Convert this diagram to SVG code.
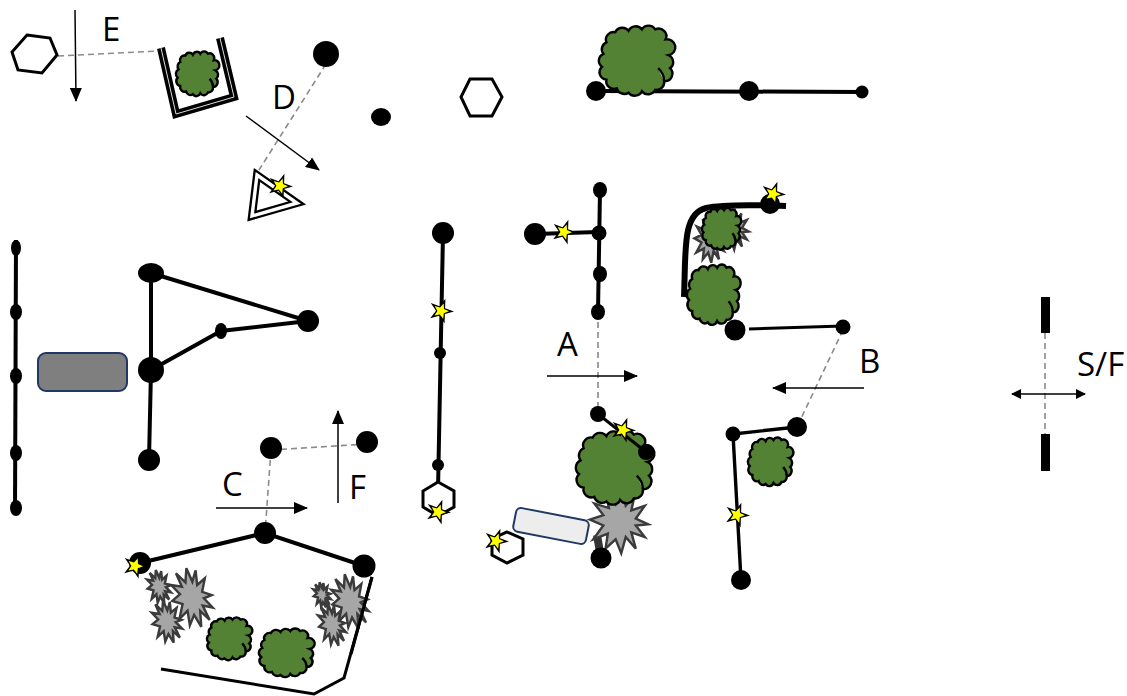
<svg xmlns="http://www.w3.org/2000/svg" xmlns:xlink="http://www.w3.org/1999/xlink" width="1127" height="696" viewBox="0 0 1127 696">
<style>
.dash{fill:none;stroke:#8a8a8a;stroke-width:1.6;stroke-dasharray:6 4}
.arr{fill:none;stroke:#000;stroke-width:1.5;marker-end:url(#ah)}
.arr2{fill:none;stroke:#000;stroke-width:1.5;marker-end:url(#ah2);marker-start:url(#ah2s)}
.w{fill:none;stroke:#000;stroke-width:4;stroke-linejoin:miter}
.k{fill:#000}
.hex{fill:#fff;stroke:#000;stroke-width:3}
.lbl{font-family:"Open Sans","Noto Sans",sans-serif;font-size:33px;fill:#000}
.tree path{fill:#548235;stroke:#000;stroke-width:2.4;vector-effect:non-scaling-stroke}
.bst{fill:#a6a6a6;stroke:#3a3a3a;stroke-width:2.4;stroke-linejoin:miter;vector-effect:non-scaling-stroke}
.soft{filter:url(#soft)}
.box{stroke:#1f3864;stroke-width:2}
</style>
<defs>
<filter id="soft" x="-20%" y="-20%" width="140%" height="140%"><feGaussianBlur stdDeviation="0.6"/></filter>
<marker id="ah" markerUnits="userSpaceOnUse" markerWidth="14" markerHeight="12" refX="13" refY="6" orient="auto"><path d="M0 0L14 6L0 12Z" fill="#000"/></marker>
<marker id="ah2" markerUnits="userSpaceOnUse" markerWidth="10" markerHeight="10" refX="9" refY="5" orient="auto"><path d="M0 0L10 5L0 10Z" fill="#000"/></marker>
<marker id="ah2s" markerUnits="userSpaceOnUse" markerWidth="10" markerHeight="10" refX="1" refY="5" orient="auto"><path d="M10 0L0 5L10 10Z" fill="#000"/></marker>
<g id="tree" class="tree"><path d="M44 -8A10.5 10.5 0 0 1 46 10A10.5 10.5 0 0 1 38 28A10.5 10.5 0 0 1 26 40A10.5 10.5 0 0 1 8 42A10.5 10.5 0 0 1 -10 44A10.5 10.5 0 0 1 -26 38A10.5 10.5 0 0 1 -40 26A10.5 10.5 0 0 1 -46 8A10.5 10.5 0 0 1 -44 -10A10.5 10.5 0 0 1 -40 -26A10.5 10.5 0 0 1 -28 -40A10.5 10.5 0 0 1 -10 -42A10.5 10.5 0 0 1 8 -44A10.5 10.5 0 0 1 26 -44A10.5 10.5 0 0 1 40 -30A10.5 10.5 0 0 1 44 -8ZM38 28C38 22 35 15 30 10"/></g>
<polygon id="burst" class="bst" points="52,4 30,6 46,26 22,18 30,46 12,26 4,54 -6,30 -24,46 -20,20 -46,30 -28,6 -52,-4 -28,-12 -44,-32 -18,-24 -24,-50 -6,-30 6,-54 12,-28 28,-46 22,-20 46,-28 30,-6"/>
<g id="star"><polygon points="4.4,-12.2 4.1,-2.8 13,0.5 3.9,3.1 3.6,12.5 -1.7,4.7 -10.8,7.3 -5,-0.2 -10.2,-8 -1.4,-4.8" fill="#000"/><polygon points="2.7,-7.5 3,-2 8,0.3 2.8,2.2 2.2,7.7 -1.2,3.4 -6.6,4.5 -3.6,-0.1 -6.3,-4.9 -1,-3.5" fill="#ff0"/></g>
</defs>
<rect width="1127" height="696" fill="#fff"/>

<g id="connectors">
<path class="dash" d="M58 56L158 51"/>
<path class="dash" d="M326 64L259 170"/>
<path class="dash" d="M271 450L367 444"/>
<path class="dash" d="M271 450L265 533"/>
<path class="dash" d="M598 312L598 414"/>
<path class="dash" d="M843 330L797 427"/>
<path class="dash" d="M1045 333L1045 434"/>
<path class="arr" d="M75 10L76 101"/>
<path class="arr" d="M246 116L319 170"/>
<path class="arr" d="M216 508L307 508"/>
<path class="arr" d="M338 503L338 411"/>
<path class="arr" d="M547 376L637 376"/>
<path class="arr" d="M864 388L773 388"/>
<path class="arr2" d="M1012 394L1085 394"/>
<path class="w" d="M596 91L862 92"/>
<path class="w" d="M16 240L15 514"/>
<path class="w" d="M151 273L308 321L221 331L151 370M151 273L151 370L149 460"/>
<path class="w" d="M140 563L265 533L364 566"/>
<path class="w" style="stroke-width:3" d="M372 577L344 678L314 694L161 669"/>
<path class="w" d="M443 233L438 490"/>
<path class="w" d="M600 190L598 312"/>
<path class="w" d="M535 234L598 232"/>
<path class="w" style="stroke-width:3" d="M749 329L843 326"/>
<path class="w" style="stroke-width:3.4" d="M797 427L733 434L741 580"/>
<path class="w" style="stroke-width:6" d="M684 297C686 250 682 214 706 208C724 204 760 205 786 206"/>
</g>

<g id="text-labels">
<text class="lbl" x="102" y="41">E</text>
<text class="lbl" x="272" y="109">D</text>
<text class="lbl" x="222" y="496">C</text>
<text class="lbl" x="349" y="499">F</text>
<text class="lbl" x="557" y="356">A</text>
<text class="lbl" x="859" y="373">B</text>
<text class="lbl" x="1077" y="376">S/F</text>
</g>

<g id="n-hex-e"><polygon class="hex" points="27,35 50,38 57,55 42,73 18,70 12,52"/></g>
<g id="n-container">
<path d="M161 48L176 114L234 97L220 38" fill="none" stroke="#000" stroke-width="8"/>
<path d="M161 48L176 114L234 97L220 38" fill="none" stroke="#ddd" stroke-width="1"/>
<use xlink:href="#tree" href="#tree" transform="translate(197 74) scale(.42 .46)"/>
</g>
<g id="n-d-top"><circle class="k" cx="326" cy="54" r="13"/></g>
<g id="n-tri">
<polygon points="257,175 297,203 252,216" fill="#fff" stroke="#000" stroke-width="8" stroke-linejoin="miter"/>
<polygon points="257,175 297,203 252,216" fill="none" stroke="#fff" stroke-width="3.4" stroke-linejoin="miter"/>
<use xlink:href="#star" href="#star" transform="translate(280 186)"/>
</g>
<g id="n-blob"><ellipse class="k" cx="381" cy="117" rx="10" ry="9"/></g>
<g id="n-hex-top"><polygon class="hex" points="470,79 492,79 502,97 492,116 470,116 461,97"/></g>
<g id="n-top-line">
<use xlink:href="#tree" href="#tree" transform="translate(636 61) scale(.74 .72)"/>
<circle class="k" cx="596" cy="91" r="10"/><circle class="k" cx="749" cy="91" r="10"/><circle class="k" cx="862" cy="92" r="6.5"/>
</g>
<g id="n-left-line" class="k">
<ellipse cx="16" cy="248" rx="5" ry="8"/><ellipse cx="16" cy="312" rx="6" ry="8"/><ellipse cx="16" cy="376" rx="6" ry="8"/><ellipse cx="16" cy="453" rx="6" ry="8"/><ellipse cx="16" cy="508" rx="6" ry="8"/>
</g>
<g id="n-gray-rect"><rect class="box" x="38" y="353" width="89" height="38" rx="8" fill="#7f7f7f"/></g>
<g id="n-a-shape" class="k">
<ellipse cx="151" cy="273" rx="13" ry="10"/><circle cx="151" cy="370" r="13"/><circle cx="149" cy="460" r="11"/><circle cx="308" cy="321" r="11"/><ellipse cx="221" cy="331" rx="6" ry="8"/>
</g>
<g id="n-c-circles" class="k"><circle cx="271" cy="448" r="11"/><circle cx="367" cy="442" r="11"/></g>
<g id="n-bottom-left">
<g class="soft">
<use xlink:href="#burst" href="#burst" transform="translate(159 587) rotate(-15) scale(.22 .32)"/>
<use xlink:href="#burst" href="#burst" transform="translate(192 598) rotate(-15) scale(.38 .56)"/>
<use xlink:href="#burst" href="#burst" transform="translate(167 622) rotate(-15) scale(.28 .4)"/>
<use xlink:href="#burst" href="#burst" transform="translate(322 595) rotate(-15) scale(.16 .24)"/>
<use xlink:href="#burst" href="#burst" transform="translate(350 602) rotate(-15) scale(.34 .52)"/>
<use xlink:href="#burst" href="#burst" transform="translate(332 625) rotate(-15) scale(.25 .4)"/>
</g>
<path class="w" style="stroke-width:3" d="M372 577L351 654"/>
<use xlink:href="#tree" href="#tree" transform="translate(229 639) scale(.44 .44)"/>
<use xlink:href="#tree" href="#tree" transform="translate(286 653) scale(.54 .5)"/>
<circle class="k" cx="265" cy="533" r="11"/><circle class="k" cx="140" cy="563" r="11"/><circle class="k" cx="364" cy="566" r="11.5"/>
<use xlink:href="#star" href="#star" transform="translate(135 566)"/>
</g>
<g id="n-center-line">
<circle class="k" cx="443" cy="233" r="11"/><circle class="k" cx="440" cy="353" r="6"/><circle class="k" cx="438" cy="465" r="6"/>
<use xlink:href="#star" href="#star" transform="translate(441 311)"/>
<polygon class="hex" points="438,482 454,491 454,507 438,516 423,507 423,491"/>
<use xlink:href="#star" href="#star" transform="translate(438 512)"/>
</g>
<g id="n-cross">
<ellipse class="k" cx="600" cy="190" rx="7" ry="8"/><circle class="k" cx="599" cy="233" r="7.5"/><ellipse class="k" cx="600" cy="274" rx="7" ry="8"/><ellipse class="k" cx="598" cy="312" rx="7" ry="8"/><circle class="k" cx="535" cy="234" r="11"/>
<use xlink:href="#star" href="#star" transform="translate(564 232)"/>
</g>
<g id="n-a-cluster">
<path d="M601 558L597 535" stroke="#333" stroke-width="8" fill="none"/>
<use class="soft" xlink:href="#burst" href="#burst" transform="translate(619 522) scale(.56 .58)"/>
<use xlink:href="#tree" href="#tree" transform="translate(614 468) scale(.76 .76)"/>
<circle class="k" cx="598" cy="414" r="8"/><circle class="k" cx="646" cy="452" r="8"/>
<path d="M598 414L646 452" stroke="#000" stroke-width="3" fill="none"/>
<use xlink:href="#star" href="#star" transform="translate(623 430)"/>
<circle class="k" cx="601" cy="558" r="10.5"/>
<rect class="box" x="-37" y="-12" width="74" height="24" rx="5" fill="#ededed" transform="translate(551 526) rotate(11)"/>
<polygon class="hex" points="507,532 523,539 523,555 507,563 492,555 492,539"/>
<use xlink:href="#star" href="#star" transform="translate(496 541)"/>
</g>
<g id="n-right-cluster">
<g class="soft">
<use xlink:href="#burst" href="#burst" transform="translate(710 240) scale(.3 .42)"/>
<use xlink:href="#burst" href="#burst" transform="translate(733 230) scale(.3 .36)"/>
</g>
<use xlink:href="#tree" href="#tree" transform="translate(721 229) scale(.38 .43)"/>
<use xlink:href="#tree" href="#tree" transform="translate(713 295) scale(.52 .62)"/>
<circle class="k" cx="770" cy="204" r="10"/>
<use xlink:href="#star" href="#star" transform="translate(773 194)"/>
<circle class="k" cx="735" cy="330" r="10.5"/><circle class="k" cx="843" cy="327" r="7.5"/>
</g>
<g id="n-b-shape">
<circle class="k" cx="797" cy="427" r="10"/><circle class="k" cx="733" cy="434" r="7.5"/><circle class="k" cx="741" cy="580" r="10"/>
<use xlink:href="#tree" href="#tree" transform="translate(770 462) scale(.44 .5)"/>
<use xlink:href="#star" href="#star" transform="translate(737 515)"/>
</g>
<g id="n-sf"><rect class="k" x="1041" y="297" width="9" height="36"/><rect class="k" x="1041" y="434" width="9" height="37"/></g>
</svg>
